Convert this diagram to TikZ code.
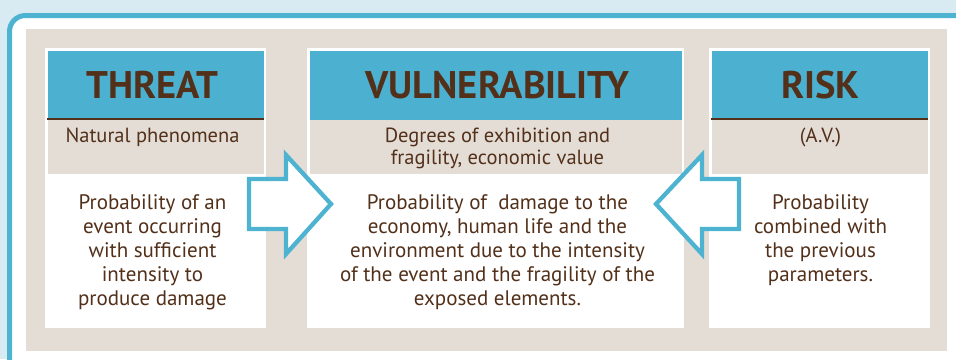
\documentclass[tikz,border=0pt]{standalone}
\usepackage{fontspec}
\setmainfont{PT Sans}
\usepackage{xcolor}
\usepackage{tikz}
\usetikzlibrary{positioning}

\definecolor{bgblue}{HTML}{D8EAF2}
\definecolor{frameblue}{HTML}{4DB3D1}
\definecolor{headblue}{HTML}{4CB1D0}
\definecolor{panelbeige}{HTML}{E4DDD6}
\definecolor{textbrown}{HTML}{52301A}

\tikzset{
    title/.style={anchor=base, inner sep=0, text=textbrown, font=\bfseries\fontsize{38.5}{42}\selectfont},
    subtext/.style={anchor=base, inner sep=0, align=center, text=textbrown, font=\fontsize{20.5}{22}\selectfont},
    bodytext/.style={anchor=base, inner sep=0, align=center, text=textbrown, font=\fontsize{21}{24}\selectfont},
    blockarrow/.style={draw=frameblue, fill=white, line width=4.3pt, line join=miter}
}

\begin{document}
\begin{tikzpicture}[x=1pt, y=-1pt]
    \useasboundingbox (0,0) rectangle (956,359);
    \clip (0,0) rectangle (956,359);

    % Frame
    \fill[bgblue] (0,0) rectangle (956,359);
    \draw[frameblue, fill=white, line width=5pt, rounded corners=16pt] (9.5,15.5) rectangle (990,390);
    \fill[panelbeige] (26,29) rectangle (947,351);

    % Columns
    \foreach \l/\r in {45/266, 307/684, 709/930} {
        \fill[white] (\l,48) rectangle (\r,328);
        \fill[headblue] (\l+2.5,51) rectangle (\r-2.5,120);
        \fill[panelbeige] (\l+2.5,120) rectangle (\r-2.5,174);
    }
    \foreach \l/\r in {45/266, 709/930}
        \draw[textbrown, line width=1.3pt] (\l+2,119) -- (\r-2,119);

    % Titles (base = baseline of the last line)
    \node[title] (threat) at (152.5,98) {THREAT};
    \node[title] (vuln) at (497.5,98) {VULNERABILITY};
    \node[title] (risk) at (820.5,98) {RISK};

    % Subtitles
    \node[subtext] (threatsub) at (152.5,142) {Natural phenomena};
    \node[subtext] (vulnsub) at (497.5,164) {Degrees of exhibition and\\fragility, economic value};
    \node[subtext] (risksub) at (820.5,142) {(A.V.)};

    % Descriptions
    \node[bodytext] (threatbody) at (152.5,305) {Probability of an\\event occurring\\with sufficient\\intensity to\\produce damage};
    \node[bodytext] (vulnbody) at (497.5,305) {Probability of\ \ damage to the\\economy, human life and the\\environment due to the intensity\\of the event and the fragility of the\\exposed elements.};
    \node[bodytext] (riskbody) at (820.5,281) {Probability\\combined with\\the previous\\parameters.};

    % Arrows
    \draw[blockarrow] (249,179) -- (286,179) -- (286,155) -- (331,204) -- (286,254) -- (286,229) -- (249,229) -- cycle;
    \draw[blockarrow] (739,179) -- (702,179) -- (702,155) -- (656,204) -- (702,254) -- (702,229) -- (739,229) -- cycle;
\end{tikzpicture}
\end{document}
